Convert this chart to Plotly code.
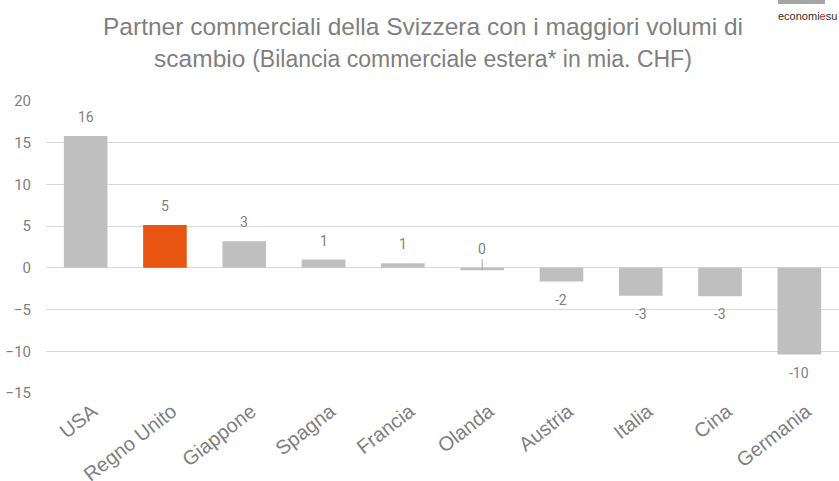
import plotly.graph_objects as go

categories = ["USA", "Regno Unito", "Giappone", "Spagna", "Francia", "Olanda", "Austria", "Italia", "Cina", "Germania"]
values = [15.8, 5.15, 3.2, 1.0, 0.55, -0.3, -1.65, -3.35, -3.4, -10.4]
labels = ["16", "5", "3", "1", "1", "0", "-2", "-3", "-3", "-10"]
highlight = "Regno Unito"

GRAY = "#bfbfbf"
ORANGE = "#e85412"
TEXT = "#7f7f7f"
NUMFONT = "Roboto, Liberation Sans"
FONT = "Liberation Sans, Arial"

colors = [ORANGE if c == highlight else GRAY for c in categories]

fig = go.Figure()
fig.add_trace(go.Bar(
    x=categories, y=values, marker=dict(color=colors, line=dict(width=0)),
    hoverinfo="skip",
))

# value labels
for c, v, t in zip(categories, values, labels):
    if c == "Olanda":
        fig.add_annotation(x=c, y=v, text=t, showarrow=True, arrowhead=0, arrowwidth=1,
                           arrowcolor="#a6a6a6", ax=0, ay=-11, yanchor="bottom",
                           font=dict(family=NUMFONT, size=14, color=TEXT))
    elif v >= 0:
        fig.add_annotation(x=c, y=v, text=t, showarrow=False, yanchor="bottom", yshift=9,
                           font=dict(family=NUMFONT, size=14, color=TEXT))
    else:
        fig.add_annotation(x=c, y=v, text=t, showarrow=False, yanchor="top", yshift=-8,
                           font=dict(family=NUMFONT, size=14, color=TEXT))

fig.update_layout(
    width=839, height=481,
    margin=dict(l=46, r=0, t=101, b=88),
    paper_bgcolor="white", plot_bgcolor="white",
    bargap=0.45, showlegend=False,
    font=dict(family=FONT, color=TEXT),
    xaxis=dict(tickangle=-38, tickfont=dict(family=FONT, size=20, color=TEXT),
               ticklabelshift=7, ticklabelstandoff=2,
               showline=False, showgrid=False, ticks="", automargin=False),
    yaxis=dict(range=[-15, 20], dtick=5, showgrid=True, gridcolor="#d9d9d9", gridwidth=1,
               zeroline=True, zerolinecolor="#d9d9d9", zerolinewidth=1,
               tickfont=dict(family=NUMFONT, size=15, color=TEXT),
               ticks="", ticklabelstandoff=14, automargin=False),
)

# title (two lines)
fig.add_annotation(
    xref="paper", yref="paper", x=(423 - 46) / 793, y=1 + (101 - 11) / 292,
    xanchor="center", yanchor="top", showarrow=False, align="center",
    text="Partner commerciali della Svizzera con i maggiori volumi di<br>scambio <span style='font-size:23px'>(Bilancia commerciale estera* in mia. CHF)</span>",
    font=dict(family=FONT, size=24.5, color=TEXT),
)

# logo
fig.add_shape(type="rect", xref="paper", yref="paper",
              x0=(778 - 46) / 793, x1=(825 - 46) / 793,
              y0=1 + (101 - 4) / 292, y1=1 + (101 - 0) / 292,
              fillcolor="#a6a6a6", line=dict(width=0))
fig.add_annotation(xref="paper", yref="paper", x=1.0, y=1 + (101 - 8) / 292,
                   xanchor="right", yanchor="top",
                   text="<span style='color:#3c2a2a'>economi</span><span style='color:#c0282d'>e</span><span style='color:#3c2a2a'>su</span>",
                   showarrow=False, font=dict(family=FONT, size=11))

fig.write_html("out.html", config={"displayModeBar": False},
               post_script="document.body.style.margin='0';")
